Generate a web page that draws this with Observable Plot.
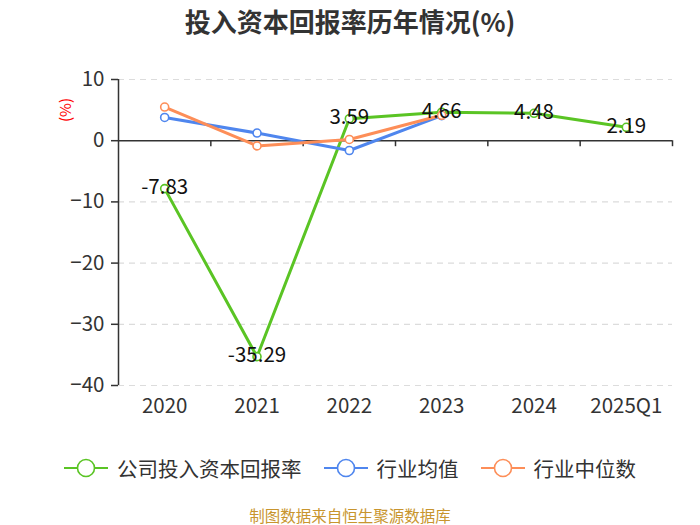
<!DOCTYPE html>
<html>
<head>
<meta charset="utf-8">
<script src="https://cdn.jsdelivr.net/npm/d3@7"></script>
<script src="https://cdn.jsdelivr.net/npm/@observablehq/plot@0.6"></script>
<style>
  html, body { margin: 0; padding: 0; background: #fff; }
  body { width: 700px; height: 525px; position: relative; overflow: hidden;
         font-family: "Noto Sans CJK SC", "Noto Sans", sans-serif; color: #333; }
  #title { height: 42px; line-height: 42px; text-align: center; font-size: 26px; font-weight: bold; color: #333; }
  #chart { height: 398px; }
  #ylab { position: absolute; left: 64px; top: 110px; transform: translate(-50%, -50%) rotate(-90deg);
          color: #ff0000; font-size: 15px; white-space: nowrap; }
  #legend { height: 56px; display: flex; justify-content: center; align-items: center; gap: 22px; }
  .item { display: flex; align-items: center; gap: 9px; font-size: 20.5px; color: #333; }
  #caption { height: 38px; line-height: 38px; text-align: center; font-size: 15.5px; color: #c8952e; }
</style>
</head>
<body>
<div id="title">投入资本回报率历年情况(%)</div>
<div id="chart"></div>
<div id="ylab">(%)</div>
<div id="legend"></div>
<div id="caption">制图数据来自恒生聚源数据库</div>
<script>
const categories = ["2020", "2021", "2022", "2023", "2024", "2025Q1"];
const company = [-7.83, -35.29, 3.59, 4.66, 4.48, 2.19];
const industryAvg = [3.8, 1.25, -1.6, 4.1, null, null];
const industryMedian = [5.5, -0.85, 0.2, 4.15, null, null];
const yTicks = [10, 0, -10, -20, -30, -40];
const seriesNames = ["公司投入资本回报率", "行业均值", "行业中位数"];
const seriesColors = ["#5ac424", "#4f86ee", "#fd8e58"];

const centers = categories.map((c, i) => i + 0.5);
const boundaries = d3.range(1, categories.length + 1);
const rows = (vals) => vals.map((v, i) => ({x: i + 0.5, y: v, cat: categories[i]})).filter(d => d.y != null);
const data = [company, industryAvg, industryMedian].map(rows);
const yExtent = d3.extent(yTicks);
const gridTicks = yTicks.filter(t => t !== 0);

const plot = Plot.plot({
  width: 700,
  height: 398,
  marginTop: 37,
  marginBottom: 55,
  marginLeft: 118,
  marginRight: 28,
  style: {fontFamily: "'Noto Sans CJK SC', 'Noto Sans', sans-serif", background: "#fff"},
  x: {type: "linear", domain: [0, categories.length]},
  y: {domain: yExtent},
  marks: [
    Plot.ruleY(gridTicks, {stroke: "#dcdcdc", strokeWidth: 1.2, strokeDasharray: "6,5"}),
    Plot.ruleY([0], {stroke: "#333", strokeWidth: 1.5}),
    Plot.ruleX([0], {y1: yExtent[0], y2: yExtent[1], stroke: "#333", strokeWidth: 1.5}),
    Plot.ruleX(boundaries, {y1: 0, y2: 0, insetBottom: -6, stroke: "#333", strokeWidth: 1.5}),
    Plot.axisY({ticks: yTicks, tickSize: 7, tickPadding: 7, fontSize: 20.5, color: "#333", strokeWidth: 1.5, label: null}),
    Plot.axisX({ticks: centers, tickFormat: (d) => categories[Math.round(d - 0.5)], tickSize: 0, tickPadding: 13, fontSize: 20.5, color: "#333", label: null}),
    ...data.map((d, k) => Plot.line(d, {x: "x", y: "y", stroke: seriesColors[k], strokeWidth: 3})),
    ...data.map((d, k) => Plot.dot(d, {x: "x", y: "y", r: 4, fill: "#fff", stroke: seriesColors[k], strokeWidth: 1.6})),
    Plot.text(data[0], {x: "x", y: "y", text: (d) => d.y.toFixed(2), fontSize: 20.5, fill: "#111", dy: -1})
  ]
});
document.getElementById("chart").appendChild(plot);

const legend = document.getElementById("legend");
seriesNames.forEach((name, k) => {
  const item = document.createElement("div");
  item.className = "item";
  item.innerHTML = `<svg width="44" height="22"><line x1="0" y1="11" x2="44" y2="11" stroke="${seriesColors[k]}" stroke-width="2"/><circle cx="22" cy="11" r="8.5" fill="#fff" stroke="${seriesColors[k]}" stroke-width="1.6"/></svg><span>${name}</span>`;
  legend.appendChild(item);
});
</script>
</body>
</html>
